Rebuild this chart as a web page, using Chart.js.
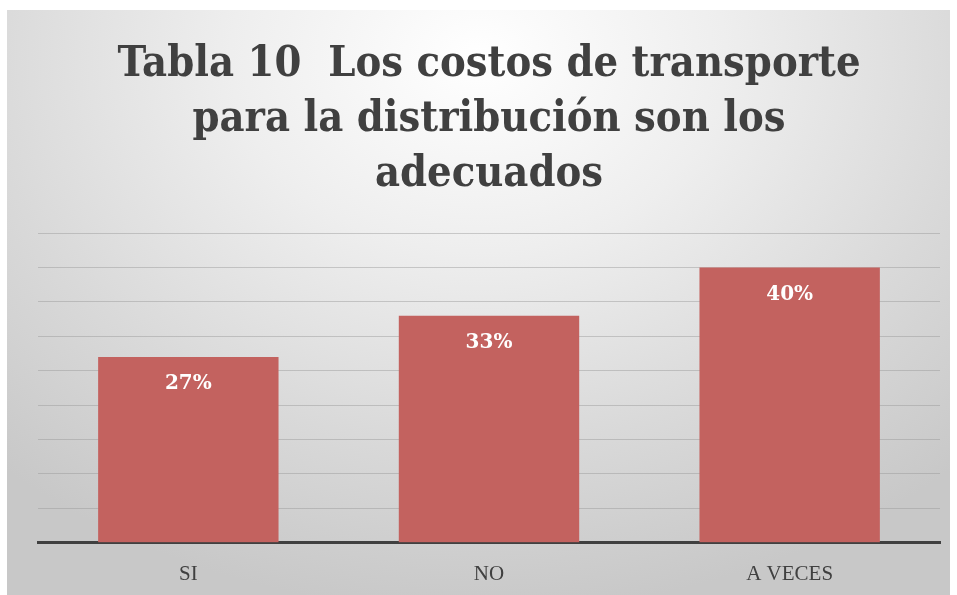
<!DOCTYPE html>
<html>
<head>
<meta charset="utf-8">
<script src="https://cdn.jsdelivr.net/npm/chart.js@4"></script>
<style>
    html, body { margin: 0; padding: 0; background: #ffffff; }
    #wrap {
        position: absolute;
        left: 7px; top: 10px;
        width: 943px; height: 585px;
        background: radial-gradient(ellipse 75% 95% at 50% 8%, #ffffff 0%, #eeeeee 35%, #d9d9d9 70%, #c8c8c8 100%);
    }
</style>
</head>
<body>
<div id="wrap"><canvas id="chart" width="943" height="585"></canvas></div>
<script>
// Chart data
const categories = ['SI', 'NO', 'A VECES'];
const percentages = [27, 33, 40];
const titleLines = ['Tabla 10  Los costos de transporte', 'para la distribución son los', 'adecuados'];

// Draws the % labels inside the top of each bar
const barLabels = {
    id: 'barLabels',
    afterDatasetsDraw(chart) {
        const ctx = chart.ctx;
        const meta = chart.getDatasetMeta(0);
        ctx.save();
        ctx.fillStyle = '#ffffff';
        ctx.font = 'bold 20px "DejaVu Serif"';
        ctx.textAlign = 'center';
        ctx.textBaseline = 'middle';
        meta.data.forEach((bar, i) => {
            ctx.fillText(percentages[i] + '%', bar.x, bar.y + 27);
        });
        ctx.restore();
    }
};

const ctx = document.getElementById('chart').getContext('2d');
const chart = new Chart(ctx, {
    type: 'bar',
    data: {
        labels: categories,
        datasets: [{
            data: percentages,
            backgroundColor: '#c3625f',
            borderWidth: 0,
            categoryPercentage: 1,
            barPercentage: 0.6
        }]
    },
    options: {
        responsive: false,
        animation: false,
        layout: { padding: { left: 31, right: 10, top: 0, bottom: -3 } },
        plugins: {
            legend: { display: false },
            tooltip: { enabled: false },
            title: {
                display: true,
                text: titleLines,
                color: '#404040',
                font: { family: '"DejaVu Serif Condensed"', weight: 'bold', size: 43, lineHeight: 1.28 },
                padding: { top: 27, bottom: 31 }
            }
        },
        scales: {
            x: {
                grid: { display: false },
                border: { display: true, color: '#404040', width: 3 },
                ticks: {
                    color: '#404040',
                    font: { family: '"Liberation Serif"', size: 21 },
                    padding: 11
                }
            },
            y: {
                min: 0,
                max: 45,
                ticks: { display: false, stepSize: 5 },
                grid: { color: 'rgba(150,150,150,0.45)', lineWidth: 1, drawTicks: false },
                border: { display: false }
            }
        }
    },
    plugins: [barLabels]
});
</script>
</body>
</html>
